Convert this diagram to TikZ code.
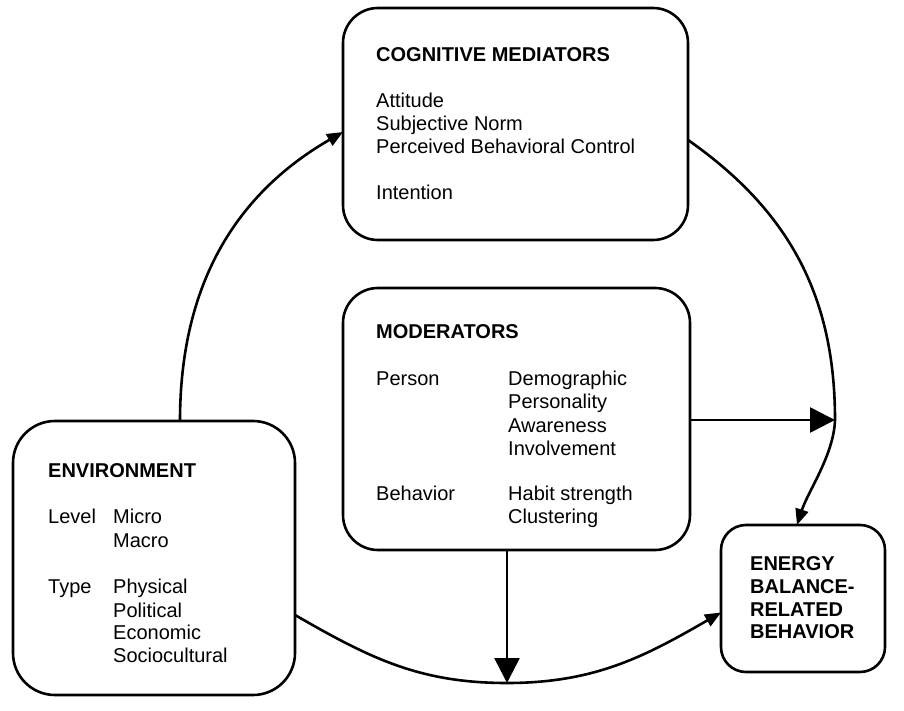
\documentclass[tikz,border=0pt]{standalone}
\usepackage{fontspec}
\setmainfont{Liberation Sans}
\usetikzlibrary{arrows.meta,calc}
\begin{document}
\begin{tikzpicture}[x=1pt,y=-1pt,
  box/.style={draw,line width=2.6pt,rounded corners=#1,outer sep=0pt,inner sep=0pt},
  box/.default=35pt,
  txt/.style={anchor=base west,inner sep=0pt,font=\fontsize{20}{24}\selectfont},
  ttl/.style={anchor=base west,inner sep=0pt,font=\fontsize{20}{24}\selectfont\bfseries},
  conn/.style={line width=2.6pt},
  sm/.style={conn,-{Triangle[length=16pt,width=13pt]}},
  bg/.style={conn,-{Triangle[length=25pt,width=25pt]}}]
\useasboundingbox (0,0) rectangle (904,711);
\fill[white] (0,0) rectangle (904,711);

% boxes
\node[box=35pt, minimum width=345pt, minimum height=232pt] (cog) at (515.5,124) {};
\node[box=35pt, minimum width=347pt, minimum height=262pt] (mod) at (516.5,419) {};
\node[box=42pt, minimum width=282pt, minimum height=274pt] (env) at (154,558) {};
\node[box=25pt, minimum width=164pt, minimum height=147pt] (ebr) at (803,598.5) {};

% cognitive mediators text
\node[ttl] (cogT) at (376,62) {COGNITIVE MEDIATORS};
\node[txt] (cog1) at (376,108) {Attitude};
\node[txt] (cog2) at (376,131) {Subjective Norm};
\node[txt] (cog3) at (376,154) {Perceived Behavioral Control};
\node[txt] (cog4) at (376,200) {Intention};

% moderators text
\node[ttl] (modT) at (376,338) {MODERATORS};
\node[txt] (modP) at (376,385) {Person};
\node[txt] (mod1) at (508,385) {Demographic};
\node[txt] (mod2) at (508,408) {Personality};
\node[txt] (mod3) at (508,432) {Awareness};
\node[txt] (mod4) at (508,455) {Involvement};
\node[txt] (modB) at (376,500) {Behavior};
\node[txt] (mod5) at (508,500) {Habit strength};
\node[txt] (mod6) at (508,523) {Clustering};

% environment text
\node[ttl] (envT) at (48,477) {ENVIRONMENT};
\node[txt] (envL) at (48,523) {Level};
\node[txt] (env1) at (113,523) {Micro};
\node[txt] (env2) at (113,547) {Macro};
\node[txt] (envY) at (48,593) {Type};
\node[txt] (env3) at (113,593) {Physical};
\node[txt] (env4) at (113,617) {Political};
\node[txt] (env5) at (113,639) {Economic};
\node[txt] (env6) at (113,662) {Sociocultural};

% energy balance text
\node[ttl] (ebr1) at (750,570) {ENERGY};
\node[ttl] (ebr2) at (750,593) {BALANCE-};
\node[ttl] (ebr3) at (750,616) {RELATED};
\node[ttl] (ebr4) at (750,638) {BEHAVIOR};

% junction points
\coordinate (hub) at (835,420);
\coordinate (low) at (507,683);

% connectors
\draw[sm] ($(env.north west)+(167,0)$) to[out=90,in=-150] ($(cog.west)+(0,8)$);
\draw[sm] ($(cog.east)+(0,16)$) to[out=-35,in=90] (hub) to[out=-92,in=72,looseness=0.8] ($(ebr.north)+(-6,0)$);
\draw[bg] ($(mod.east)+(0,1)$) -- (hub);
\draw[bg] ($(mod.south)+(-9.5,0)$) -- (low);
\draw[sm] ($(env.east)+(0,57)$) to[out=-30,in=180] (low) to[out=0,in=-150] ($(ebr.west)+(0,14)$);
\end{tikzpicture}
\end{document}
